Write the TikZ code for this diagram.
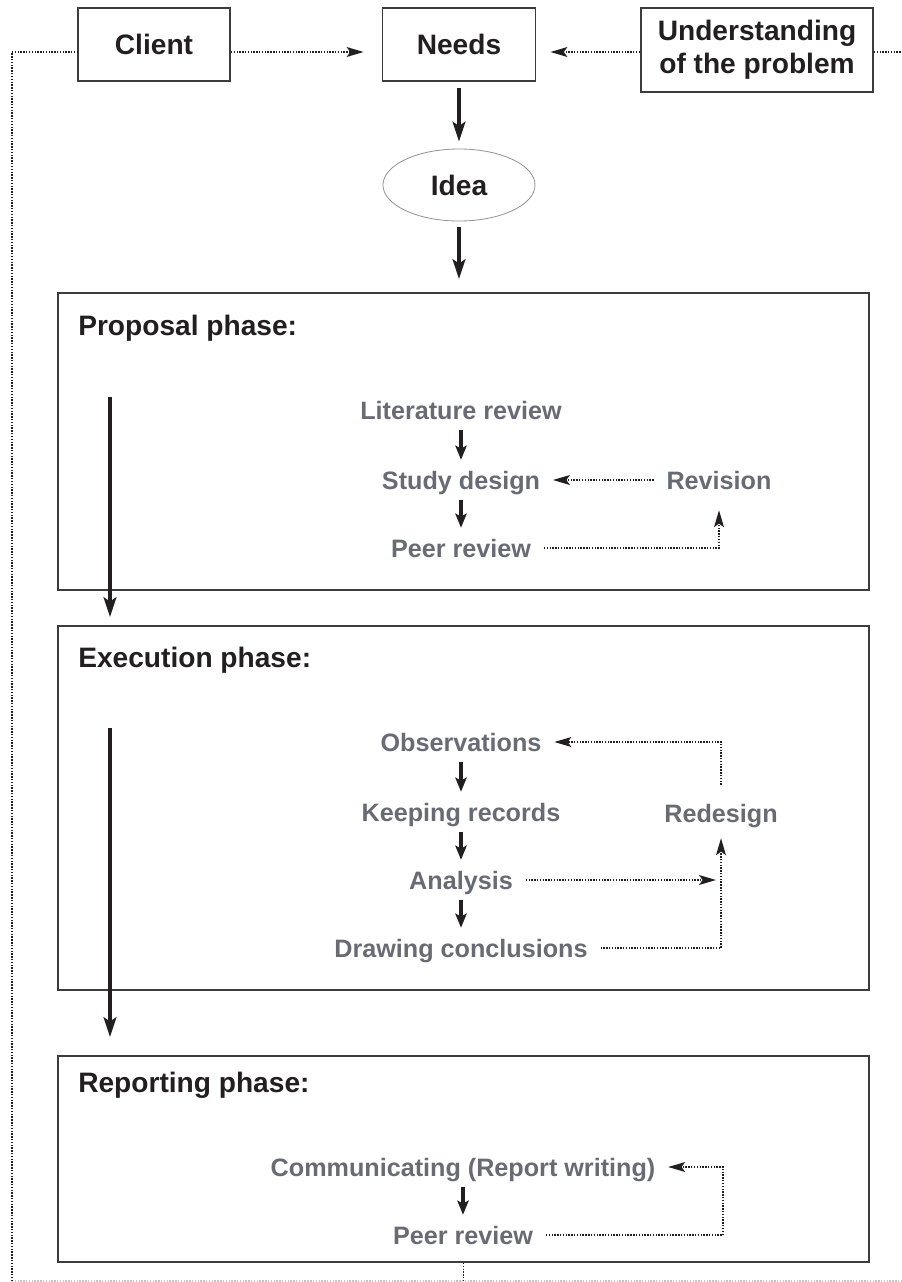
\documentclass[tikz,border=0pt]{standalone}
\usepackage{fontspec}
\setmainfont{Liberation Sans}
\usetikzlibrary{arrows.meta,positioning,shapes.geometric}
\definecolor{inkblack}{RGB}{35,31,32}
\definecolor{framegray}{RGB}{60,60,60}
\definecolor{stepgray}{RGB}{104,107,116}
\definecolor{ovalgray}{RGB}{150,150,150}
\definecolor{loopgray}{RGB}{195,195,195}

\begin{document}
\begin{tikzpicture}[x=0.025cm,y=-0.025cm,
	topbox/.style={draw=framegray,line width=1.3pt,minimum height=1.825cm,text=inkblack,font=\fontsize{20}{23.4}\selectfont\bfseries,align=center},
	phasebox/.style={draw=framegray,line width=1.3pt,minimum width=20.275cm},
	phasetitle/.style={anchor=base west,inner sep=0pt,text=inkblack,font=\fontsize{20}{24}\selectfont\bfseries},
	stepnode/.style={text=stepgray,font=\fontsize{17.9}{21}\selectfont\bfseries,text height=12.8pt,text depth=0pt,inner xsep=9pt,inner ysep=7.8pt},
	bigarrow/.style={draw=inkblack,line width=3.5pt,-{Stealth[length=14pt,width=9pt,inset=3pt]}},
	smallarrow/.style={draw=inkblack,line width=2.8pt,-{Stealth[length=10pt,width=8pt,inset=2pt]}},
	feedback/.style={draw=inkblack,line width=1pt,densely dotted,-{Stealth[length=12pt,width=7pt,inset=2.5pt]}},
	loopline/.style={draw=inkblack,line width=1pt,densely dotted}
	]
	\useasboundingbox (0,0) rectangle (901,1282);
	
	% Obere Reihe
	\node[topbox,minimum width=3.8cm] (client) at (154,44.5) {Client};
	\node[topbox,minimum width=3.825cm] (needs) at (459,44.5) {Needs};
	\node[topbox,minimum width=5.8cm,minimum height=2.1cm] (problem) at (757,50) {Understanding\\of the problem};
	\node[ellipse,draw=ovalgray,line width=0.6pt,minimum width=3.8cm,minimum height=1.8cm,text=inkblack,font=\fontsize{20}{24}\selectfont\bfseries] (idea) at (459,185) {Idea};
	
	% Phasen
	\node[phasebox,minimum height=7.425cm] (proposal) at (463.5,441.5) {};
	\node[phasebox,minimum height=9.1cm] (execution) at (463.5,808) {};
	\node[phasebox,minimum height=5.15cm] (reporting) at (463.5,1159) {};
	\node[phasetitle] (proposaltitle) at (78,335) {Proposal phase:};
	\node[phasetitle] (executiontitle) at (78,667) {Execution phase:};
	\node[phasetitle] (reportingtitle) at (78,1092) {Reporting phase:};
	
	% Schritte im Vorschlag
	\node[stepnode] (literature) at (461,410) {Literature review};
	\node[stepnode] (design) at (461,480) {Study design};
	\node[stepnode] (peer) at (461,548) {Peer review};
	\node[stepnode] (revision) at (719,480) {Revision};
	
	% Schritte in der Durchfuehrung
	\node[stepnode] (observations) at (461,742) {Observations};
	\node[stepnode] (records) at (461,812) {Keeping records};
	\node[stepnode] (analysis) at (461,880) {Analysis};
	\node[stepnode] (conclusions) at (461,948) {Drawing conclusions};
	\node[stepnode] (redesign) at (721,813) {Redesign};
	
	% Schritte im Bericht
	\node[stepnode] (writing) at (463,1167) {Communicating (Report writing)};
	\node[stepnode] (peerreport) at (463,1235) {Peer review};
	
	% Hilfspunkte
	\coordinate (toprow) at (0,52);
	\coordinate (loopcorner) at (12,1281);
	\coordinate (rightedge) at (901,52);
	\coordinate (bottomedge) at (901,1281);
	\coordinate (propdown) at (110,397);
	\coordinate (execdown) at (110,728);
	\coordinate (reportloop) at (723,1200);
	
	% Dicke Pfeile
	\draw[bigarrow,shorten <=0.15cm,shorten >=0.175cm] (needs.south) -- (idea.north);
	\draw[bigarrow,shorten <=0.15cm,shorten >=0.325cm] (idea.south) -- (idea.south |- proposal.north);
	\draw[bigarrow,shorten >=0.2cm] (propdown) -- (propdown |- execution.north);
	\draw[bigarrow,shorten >=0.45cm] (execdown) -- (execdown |- reporting.north);
	
	% Kleine Pfeile
	\draw[smallarrow] (literature.south) -- (design.north);
	\draw[smallarrow] (design.south) -- (peer.north);
	\draw[smallarrow] (observations.south) -- (records.north);
	\draw[smallarrow] (records.south) -- (analysis.north);
	\draw[smallarrow] (analysis.south) -- (conclusions.north);
	\draw[smallarrow] (writing.south) -- (peerreport.north);
	
	% Rueckkopplungen
	\draw[feedback] (revision) -- (design);
	\draw[feedback,shorten >=0.25cm] (peer.east) -| (revision.south);
	\draw[feedback,shorten <=0.2cm] (redesign.north) |- (observations.east);
	\draw[feedback,shorten >=0.125cm] (analysis.east) -- (analysis.east -| redesign);
	\draw[feedback,shorten >=0.125cm] (conclusions.east) -| (redesign.south);
	\draw[feedback] (peerreport.east) -| (reportloop) |- (writing.east);
	
	% Gepunktete Schleife aussen
	\draw[feedback,shorten >=0.45cm] (client.east |- toprow) -- (needs.west |- toprow);
	\draw[feedback,shorten >=0.35cm] (problem.west |- toprow) -- (needs.east |- toprow);
	\draw[loopline] (problem.east |- toprow) -- (rightedge);
	\draw[loopline] (reporting.south) -- (reporting.south |- loopcorner);
	\draw[loopline,draw=loopgray] (loopcorner) -- (bottomedge);
	\draw[loopline] (loopcorner) -- (loopcorner |- toprow) -- (client.west |- toprow);
	
\end{tikzpicture}
\end{document}
